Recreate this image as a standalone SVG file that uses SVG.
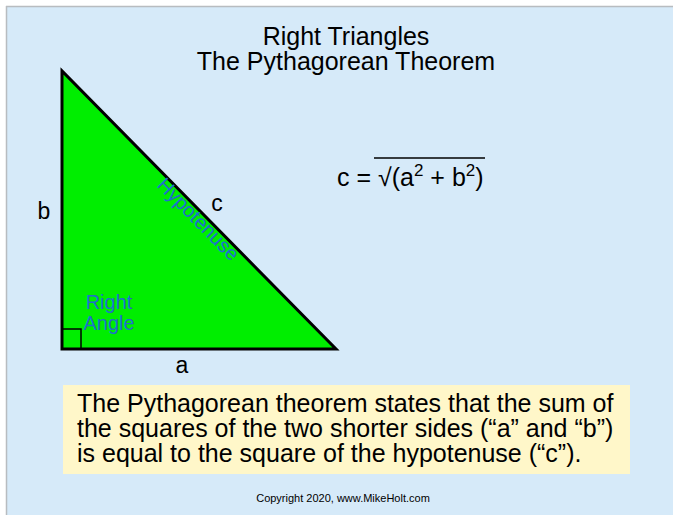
<svg xmlns="http://www.w3.org/2000/svg" width="673" height="515" viewBox="0 0 673 515">
<style>
.t{font-family:"Liberation Sans",Arial,sans-serif;fill:#000}
.b{font-family:"Liberation Sans",Arial,sans-serif;fill:#1f6fcc}
</style>
<rect x="0" y="0" width="673" height="515" fill="#ffffff"/>
<rect x="6" y="6" width="667" height="509" fill="#d6eaf9"/>
<line x1="6.5" y1="6" x2="6.5" y2="515" stroke="#b8bcc0" stroke-width="1.5"/>
<line x1="6" y1="6.5" x2="673" y2="6.5" stroke="#b8bcc0" stroke-width="1.5"/>
<g id="title">
<text class="t" x="346" y="45" font-size="25" text-anchor="middle">Right Triangles</text>
<text class="t" x="346" y="70" font-size="25" text-anchor="middle">The Pythagorean Theorem</text>
</g>
<g id="triangle">
<polygon points="62,71 62,349 336,349" fill="#00ee00" stroke="#000" stroke-width="3" stroke-linejoin="miter"/>
<rect x="62" y="329" width="19" height="20" fill="none" stroke="#000" stroke-width="1.5"/>
</g>
<g id="labels">
<text class="t" x="44" y="219" font-size="23" text-anchor="middle">b</text>
<text class="t" x="217" y="211" font-size="23" text-anchor="middle">c</text>
<text class="t" x="182" y="373" font-size="23" text-anchor="middle">a</text>
<text class="b" x="109" y="309" font-size="20" text-anchor="middle">Right</text>
<text class="b" x="109" y="330" font-size="20" text-anchor="middle">Angle</text>
<text class="b" x="0" y="0" font-size="20" transform="translate(156,186) rotate(45.4)">Hypotenuse</text>
</g>
<g id="equation">
<text class="t" x="337" y="186" font-size="25">c = √(a<tspan font-size="17" dy="-10">2</tspan><tspan dy="10"> + b</tspan><tspan font-size="17" dy="-10">2</tspan><tspan dy="10">)</tspan></text>
<line x1="374" y1="158" x2="485" y2="158" stroke="#000" stroke-width="1.3"/>
</g>
<g id="note">
<rect x="63" y="385" width="567" height="89" fill="#fff7c9"/>
<text class="t" x="77" y="412" font-size="25">The Pythagorean theorem states that the sum of</text>
<text class="t" x="77" y="437" font-size="25">the squares of the two shorter sides (“a” and “b”)</text>
<text class="t" x="77" y="462" font-size="25">is equal to the square of the hypotenuse (“c”).</text>
</g>
<text class="t" x="343" y="502" font-size="11" text-anchor="middle">Copyright 2020, www.MikeHolt.com</text>
</svg>
